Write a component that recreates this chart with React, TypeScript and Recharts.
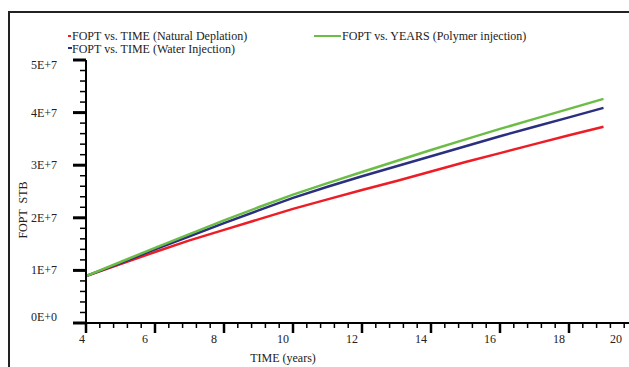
import React from 'react';
import { LineChart, Line, XAxis, YAxis } from 'recharts';

const years = [4, 5, 6, 7, 8, 9, 10, 11, 12, 13, 14, 15, 16, 17, 18, 19];
const naturalDepletion = [0.89, 1.12, 1.35, 1.57, 1.77, 1.97, 2.17, 2.35, 2.53, 2.70, 2.88, 3.06, 3.23, 3.40, 3.57, 3.73];
const waterInjection = [0.89, 1.14, 1.40, 1.65, 1.90, 2.14, 2.38, 2.59, 2.79, 2.98, 3.17, 3.36, 3.55, 3.73, 3.91, 4.09];
const polymerInjection = [0.89, 1.16, 1.43, 1.69, 1.95, 2.20, 2.44, 2.66, 2.87, 3.08, 3.29, 3.49, 3.69, 3.88, 4.07, 4.26];

const xMajorTicks = [4, 6, 8, 10, 12, 14, 16, 18, 20];
const yMajorTicks = [0, 1e7, 2e7, 3e7, 4e7, 5e7];
const yTickLabels = ['0E+0', '1E+7', '2E+7', '3E+7', '4E+7', '5E+7'];

const legendLabels = [
  'FOPT vs. TIME (Natural Deplation)',
  'FOPT vs. TIME (Water Injection)',
  'FOPT vs. YEARS (Polymer injection)',
];
const colors = ['#ee1c25', '#2b2f80', '#6cbd46'];

const data = years.map((t, i) => ({
  t,
  nat: naturalDepletion[i] * 1e7,
  water: waterInjection[i] * 1e7,
  poly: polymerInjection[i] * 1e7,
}));

// minor tick positions (every 0.4 years / every 2E6)
const xAllTicks: number[] = [];
for (let i = 0; i <= 40; i++) xAllTicks.push(Math.round((4 + i * 0.4) * 10) / 10);
const yAllTicks: number[] = [];
for (let i = 0; i <= 25; i++) yAllTicks.push(i * 2e6);

const FONT = "'Liberation Serif', 'Times New Roman', serif";
const TXT = '#222';

const isMajorX = (v: number) => xMajorTicks.some((m) => Math.abs(m - v) < 1e-6);
const isMajorY = (v: number) => yMajorTicks.some((m) => Math.abs(m - v) < 1);

const XTick = (props: any) => {
  const { x, y, payload } = props;
  const v = payload.value;
  const major = isMajorX(v);
  const lx = Math.min(Math.max(x - 10, 82), 616);
  return (
    <g>
      <line x1={x} x2={x} y1={y} y2={y + (major ? 10 : 5)} stroke="#000" strokeWidth={major ? 2.5 : 1.5} />
      {major && (
        <text x={lx} y={y + 20} textAnchor="middle" style={{ fontFamily: FONT }} fontSize={12} fill={TXT}>
          {String(v)}
        </text>
      )}
    </g>
  );
};

const YTick = (props: any) => {
  const { x, y, payload } = props;
  const v = payload.value;
  const major = isMajorY(v);
  const idx = yMajorTicks.findIndex((m) => Math.abs(m - v) < 1);
  const ly = Math.min(Math.max(y + 4, 69), 321);
  return (
    <g>
      <line x1={x - (major ? 13 : 6)} x2={x} y1={y} y2={y} stroke="#000" strokeWidth={major ? 3 : 1.5} />
      {major && (
        <text x={x - 29} y={ly} textAnchor="end" style={{ fontFamily: FONT }} fontSize={12} fill={TXT}>
          {yTickLabels[idx]}
        </text>
      )}
    </g>
  );
};

export default function App() {
  return (
    <div style={{ position: 'absolute', left: 0, top: 0, width: 629, height: 367, overflow: 'hidden', background: '#fff', fontFamily: FONT }}>
      <LineChart width={660} height={367} data={data} margin={{ top: 60, right: 22, bottom: 14, left: 26 }}>
        <XAxis
          dataKey="t"
          type="number"
          domain={[4, 20]}
          ticks={xAllTicks}
          interval={0}
          allowDataOverflow
          height={30}
          tickSize={0}
          tickMargin={0}
          tickLine={false}
          axisLine={{ stroke: '#000', strokeWidth: 2 }}
          tick={<XTick />}
        />
        <YAxis
          type="number"
          domain={[0, 5e7]}
          ticks={yAllTicks}
          interval={0}
          allowDataOverflow
          width={60}
          tickSize={0}
          tickMargin={0}
          tickLine={false}
          axisLine={{ stroke: '#000', strokeWidth: 2 }}
          tick={<YTick />}
        />
        <Line type="linear" dataKey="nat" stroke={colors[0]} strokeWidth={2.5} dot={false} isAnimationActive={false} />
        <Line type="linear" dataKey="water" stroke={colors[1]} strokeWidth={2.5} dot={false} isAnimationActive={false} />
        <Line type="linear" dataKey="poly" stroke={colors[2]} strokeWidth={2.5} dot={false} isAnimationActive={false} />
      </LineChart>
      <svg width={629} height={367} style={{ position: 'absolute', left: 0, top: 0, pointerEvents: 'none', fontFamily: FONT }}>
        <line x1={9} x2={9} y1={12} y2={367} stroke="#222" strokeWidth={2} />
        <line x1={8} x2={629} y1={12} y2={12} stroke="#222" strokeWidth={2} />
        <rect x={68} y={35} width={3} height={2} fill={colors[0]} />
        <text x={72} y={40} fontSize={12} fill={TXT}>{legendLabels[0]}</text>
        <rect x={68} y={47} width={4} height={2} fill={colors[1]} />
        <text x={72} y={53} fontSize={12} fill={TXT}>{legendLabels[1]}</text>
        <line x1={314} x2={341} y1={36} y2={36} stroke={colors[2]} strokeWidth={2} />
        <text x={342} y={40} fontSize={12} fill={TXT}>{legendLabels[2]}</text>
        <text x={283} y={362} textAnchor="middle" fontSize={12} fill={TXT}>TIME (years)</text>
        <text x={27} y={210} textAnchor="middle" fontSize={12} fill={TXT}
          transform="rotate(-90, 27, 210)" style={{ whiteSpace: 'pre' }}>FOPT  STB</text>
      </svg>
    </div>
  );
}
